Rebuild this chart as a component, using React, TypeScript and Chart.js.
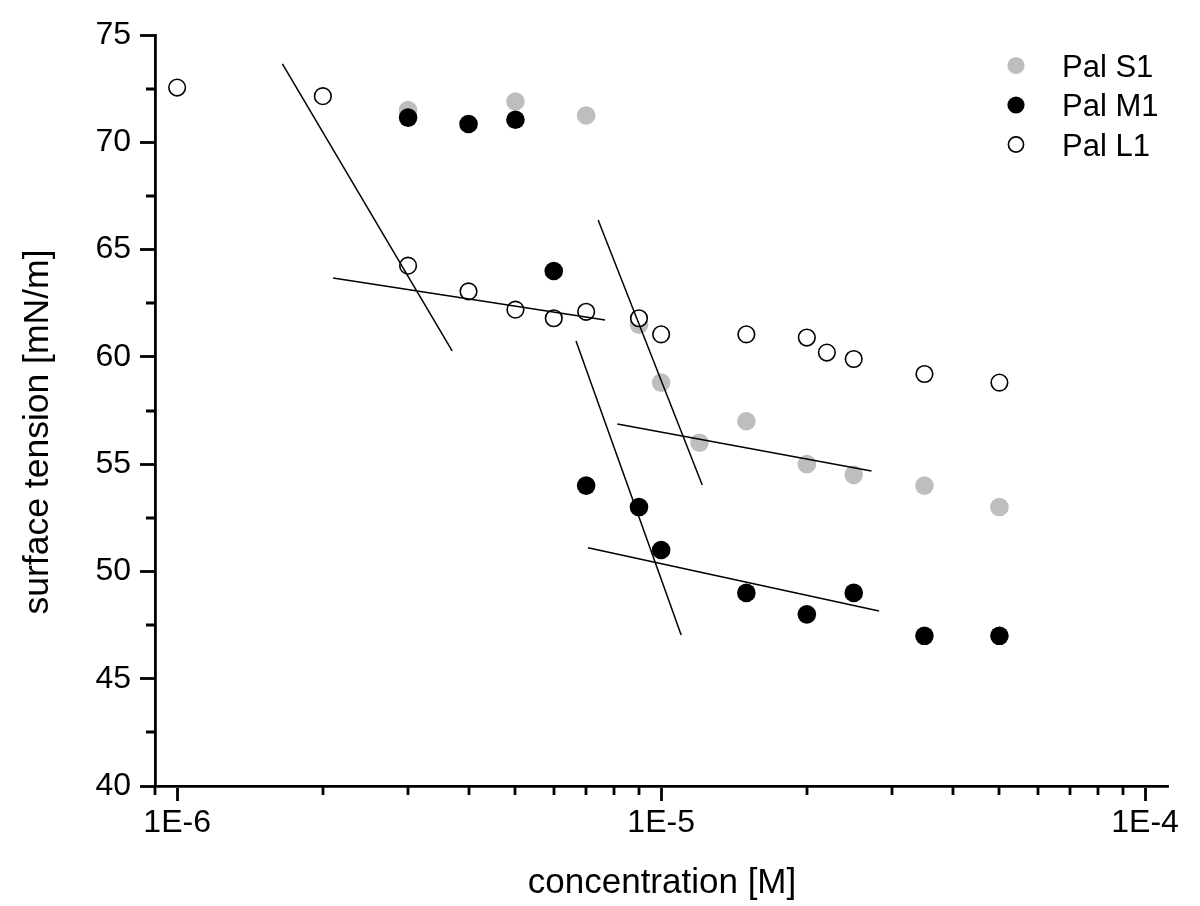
import React, { useEffect, useRef } from 'react';
import { Chart, registerables } from 'chart.js';

Chart.register(...registerables);

const FONT = '"Liberation Sans", Arial, Helvetica, sans-serif';

// ---- data ----
const seriesNames = ['Pal S1', 'Pal M1', 'Pal L1'];

const concS1 = [3e-6, 5e-6, 7e-6, 9e-6, 1e-5, 1.2e-5, 1.5e-5, 2e-5, 2.5e-5, 3.5e-5, 5e-5];
const tensionS1 = [71.5, 71.9, 71.25, 61.5, 58.8, 56.0, 57.0, 55.0, 54.5, 54.0, 53.0];

const concM1 = [3e-6, 4e-6, 5e-6, 6e-6, 7e-6, 9e-6, 1e-5, 1.5e-5, 2e-5, 2.5e-5, 3.5e-5, 5e-5];
const tensionM1 = [71.15, 70.85, 71.05, 64.0, 54.0, 53.0, 51.0, 49.0, 48.0, 49.0, 47.0, 47.0];

const concL1 = [1e-6, 2e-6, 3e-6, 4e-6, 5e-6, 6e-6, 7e-6, 9e-6, 1e-5, 1.5e-5, 2e-5, 2.2e-5, 2.5e-5, 3.5e-5, 5e-5];
const tensionL1 = [72.55, 72.15, 64.25, 63.05, 62.2, 61.8, 62.1, 61.8, 61.05, 61.05, 60.9, 60.2, 59.9, 59.2, 58.8];

// fitted straight lines (start / end)
const fitStartX = [1.65e-6, 2.1e-6, 7.41e-6, 8.12e-6, 6.67e-6, 7.06e-6];
const fitStartY = [73.65, 63.68, 66.38, 56.87, 60.74, 51.1];
const fitEndX = [3.7e-6, 7.66e-6, 1.216e-5, 2.72e-5, 1.1e-5, 2.82e-5];
const fitEndY = [60.28, 61.72, 54.03, 54.68, 47.04, 48.16];

// ---- axes ----
const xMin = 9e-7;
const xMax = 1.115e-4;
const xTickValues = [9e-7, 1e-6, 2e-6, 3e-6, 4e-6, 5e-6, 6e-6, 7e-6, 8e-6, 9e-6, 1e-5, 2e-5, 3e-5, 4e-5, 5e-5, 6e-5, 7e-5, 8e-5, 9e-5, 1e-4];
const xMajorValues = [1e-6, 1e-5, 1e-4];
const xMajorLabels = ['1E-6', '1E-5', '1E-4'];

const yMin = 40;
const yMax = 75;
const yTickValues = [40, 42.5, 45, 47.5, 50, 52.5, 55, 57.5, 60, 62.5, 65, 67.5, 70, 72.5, 75];
const yMajorValues = [40, 45, 50, 55, 60, 65, 70, 75];
const yMajorLabels = ['40', '45', '50', '55', '60', '65', '70', '75'];

const xTitle = 'concentration [M]';
const yTitle = 'surface tension [mN/m]';

const near = (a: number, b: number) => Math.abs(a - b) <= Math.abs(b) * 1e-6 + 1e-12;
const xMajorIndex = (v: number) => xMajorValues.findIndex((m) => near(v, m));
const yMajorIndex = (v: number) => yMajorValues.findIndex((m) => near(v, m));

const pts = (xs: number[], ys: number[]) => xs.map((x, i) => ({ x, y: ys[i] }));

const AXIS_W = 2.8;

const extrasPlugin = {
  id: 'extras',
  afterDraw(chart: any) {
    const ctx = chart.ctx as CanvasRenderingContext2D;
    const xs = chart.scales.x;
    const ys = chart.scales.y;
    ctx.save();
    // minor ticks
    ctx.strokeStyle = '#000';
    ctx.lineWidth = AXIS_W;
    ctx.beginPath();
    xs.ticks.forEach((t: any) => {
      if (xMajorIndex(t.value) < 0) {
        const px = Math.round(xs.getPixelForValue(t.value));
        ctx.moveTo(px, ys.bottom);
        ctx.lineTo(px, ys.bottom + 9);
      }
    });
    ys.ticks.forEach((t: any) => {
      if (yMajorIndex(t.value) < 0) {
        const py = Math.round(ys.getPixelForValue(t.value));
        ctx.moveTo(xs.left, py);
        ctx.lineTo(xs.left - 9, py);
      }
    });
    ctx.stroke();

    // axis titles
    ctx.fillStyle = '#000';
    ctx.font = `35px ${FONT}`;
    ctx.textAlign = 'center';
    ctx.textBaseline = 'middle';
    ctx.fillText(xTitle, 662, 883);
    ctx.save();
    ctx.translate(38, 432);
    ctx.rotate(-Math.PI / 2);
    ctx.font = `35.5px ${FONT}`;
    ctx.fillText(yTitle, 0, 0);
    ctx.restore();

    // legend
    const rowsY = [65.5, 105, 144.5];
    const markerX = 1016;
    const textX = 1062;
    ctx.font = `31px ${FONT}`;
    ctx.textAlign = 'left';
    ctx.textBaseline = 'alphabetic';
    for (let i = 0; i < 3; i++) {
      const ds = chart.data.datasets[i];
      const y = rowsY[i];
      ctx.beginPath();
      const bw = ds.borderWidth || 0;
      const r = bw > 0 ? 7.6 : 8.6;
      ctx.arc(markerX, y, r, 0, Math.PI * 2);
      ctx.fillStyle = ds.backgroundColor;
      ctx.fill();
      if (bw > 0) {
        ctx.lineWidth = bw;
        ctx.strokeStyle = ds.borderColor;
        ctx.stroke();
      }
      ctx.fillStyle = '#000';
      ctx.fillText(seriesNames[i], textX, y + 11);
    }
    ctx.restore();
  },
};

export default function App() {
  const ref = useRef<HTMLCanvasElement | null>(null);

  useEffect(() => {
    if (!ref.current) return;
    const lineDatasets = fitStartX.map((sx, i) => ({
      type: 'line' as const,
      label: 'fit' + i,
      data: [
        { x: sx, y: fitStartY[i] },
        { x: fitEndX[i], y: fitEndY[i] },
      ],
      borderColor: '#000',
      borderWidth: 1.5,
      pointRadius: 0,
      fill: false,
      order: 0,
    }));

    const chart = new Chart(ref.current, {
      type: 'scatter',
      data: {
        datasets: [
          {
            label: seriesNames[0],
            data: pts(concS1, tensionS1),
            backgroundColor: '#bebebe',
            borderColor: '#bebebe',
            borderWidth: 0,
            pointRadius: 9.3,
            order: 3,
          },
          {
            label: seriesNames[1],
            data: pts(concM1, tensionM1),
            backgroundColor: '#000000',
            borderColor: '#000000',
            borderWidth: 0,
            pointRadius: 9.3,
            order: 2,
          },
          {
            label: seriesNames[2],
            data: pts(concL1, tensionL1),
            backgroundColor: '#ffffff',
            borderColor: '#000000',
            borderWidth: 1.6,
            pointRadius: 8.3,
            order: 1,
          },
          ...lineDatasets,
        ] as any,
      },
      options: {
        animation: false,
        responsive: false,
        maintainAspectRatio: false,
        devicePixelRatio: 1,
        layout: { padding: { left: 0, top: 35, right: 32, bottom: 0 } },
        plugins: {
          legend: { display: false },
          tooltip: { enabled: false },
          title: { display: false },
        },
        events: [],
        scales: {
          x: {
            type: 'logarithmic',
            min: xMin,
            max: xMax,
            afterBuildTicks: (s: any) => {
              s.ticks = xTickValues.map((v) => ({ value: v }));
            },
            afterFit: (s: any) => {
              s.height = 120;
              s.paddingLeft = 0;
              s.paddingRight = 0;
            },
            ticks: {
              autoSkip: false,
              maxRotation: 0,
              minRotation: 0,
              color: '#000',
              padding: 3,
              font: { family: FONT, size: 32 },
              callback: (v: any) => {
                const i = xMajorIndex(Number(v));
                return i >= 0 ? xMajorLabels[i] : '';
              },
            },
            grid: {
              display: true,
              drawOnChartArea: false,
              drawTicks: true,
              tickLength: 15,
              tickWidth: AXIS_W,
              tickColor: (c: any) =>
                c.tick && xMajorIndex(c.tick.value) >= 0 ? '#000' : 'rgba(0,0,0,0)',
            },
            border: { display: true, color: '#000', width: AXIS_W },
          },
          y: {
            type: 'linear',
            min: yMin,
            max: yMax,
            afterBuildTicks: (s: any) => {
              s.ticks = yTickValues.map((v) => ({ value: v }));
            },
            afterFit: (s: any) => {
              s.width = 155;
              s.paddingTop = 0;
              s.paddingBottom = 0;
            },
            ticks: {
              autoSkip: false,
              color: '#000',
              padding: 9,
              font: { family: FONT, size: 32 },
              callback: (v: any) => {
                const i = yMajorIndex(Number(v));
                return i >= 0 ? yMajorLabels[i] : '';
              },
            },
            grid: {
              display: true,
              drawOnChartArea: false,
              drawTicks: true,
              tickLength: 15,
              tickWidth: AXIS_W,
              tickColor: (c: any) =>
                c.tick && yMajorIndex(c.tick.value) >= 0 ? '#000' : 'rgba(0,0,0,0)',
            },
            border: { display: true, color: '#000', width: AXIS_W },
          },
        },
      } as any,
      plugins: [extrasPlugin],
    });
    return () => chart.destroy();
  }, []);

  return (
    <div style={{ position: 'absolute', left: 0, top: 0, width: 1200, height: 906, background: '#fff' }}>
      <canvas ref={ref} width={1200} height={906} style={{ display: 'block', width: 1200, height: 906 }} />
    </div>
  );
}
